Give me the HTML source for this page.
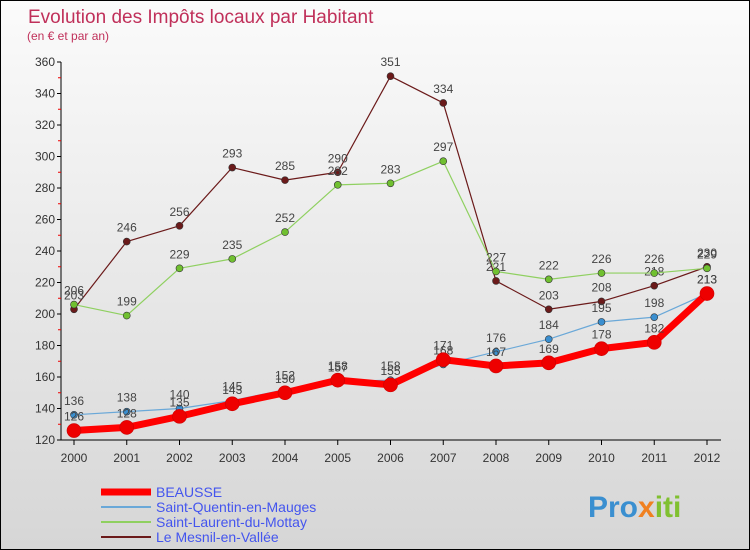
<!DOCTYPE html>
<html><head><meta charset="utf-8"><style>
body{margin:0}
#c{width:748px;height:548px;border:1px solid #000;background:linear-gradient(#fbfbfb,#d6d6d6);position:relative;font-family:"Liberation Sans",sans-serif}
svg{position:absolute;left:0;top:0}
</style></head><body>
<div id="c">
<svg id="s" width="748" height="548">
<text x="27" y="22" font-size="19" fill="#c0305a">Evolution des Impôts locaux par Habitant</text>
<text x="26" y="39" font-size="12" fill="#c0305a">(en € et par an)</text>
<text x="587" y="516" font-size="30" font-weight="bold" fill="#3a8fd0">Pro<tspan fill="#f08020">x</tspan><tspan fill="#80c030">iti</tspan></text>
</svg></div>
<script>
const years=["2000","2001","2002","2003","2004","2005","2006","2007","2008","2009","2010","2011","2012"];
const yTicks=[120,140,160,180,200,220,240,260,280,300,320,340,360];
const beausse=[126,128,135,143,150,158,155,171,167,169,178,182,213];
const stQuentin=[136,138,140,145,152,157,158,168,176,184,195,198,213];
const stLaurent=[206,199,229,235,252,282,283,297,227,222,226,226,229];
const mesnil=[203,246,256,293,285,290,351,334,221,203,208,218,230];
const names=["BEAUSSE","Saint-Quentin-en-Mauges","Saint-Laurent-du-Mottay","Le Mesnil-en-Vallée"];
const s=document.getElementById('s');const NS="http://www.w3.org/2000/svg";
function X(i){return 73+i*(706-73)/12}
function Y(v){return 439-(v-120)*(439-61)/240}
function el(t,a,p){const e=document.createElementNS(NS,t);for(const k in a)e.setAttribute(k,a[k]);(p||s).appendChild(e);return e}
const ax=el('line',{x1:60,y1:61,x2:60,y2:439,stroke:'#000'});

const bx=el('line',{x1:60,y1:439,x2:720,y2:439,stroke:'#000'});

yTicks.forEach((v,i)=>{el('line',{x1:56,x2:60,y1:Y(v),y2:Y(v),stroke:'#000'});
 if(i<yTicks.length-1)el('line',{x1:57,x2:60,y1:Y(v+10),y2:Y(v+10),stroke:'#e00'});
 const t=el('text',{x:54,y:Y(v)+4,'font-size':12,fill:'#333','text-anchor':'end'});t.textContent=v;
 });
years.forEach((y,i)=>{el('line',{x1:X(i),x2:X(i),y1:439,y2:444,stroke:'#000'});
 const t=el('text',{x:X(i),y:461,'font-size':12,fill:'#333','text-anchor':'middle'});t.textContent=y;
 });
const series=[[mesnil,'#6b1a1a','#6b1a1a',1.2,3.5],[stLaurent,'#8fd060','#70c030',1.2,3.5],[stQuentin,'#6aa8d8','#3a8fd0',1.2,3.5],[beausse,'#ff0000','#ee0000',7,7]];
series.forEach(([d,lc,pc,w,r],k)=>{
 const g=el('g',{});
 el('polyline',{points:d.map((v,i)=>X(i)+','+Y(v)).join(' '),fill:'none',stroke:lc,'stroke-width':w,'stroke-linejoin':'round'},g);
 d.forEach((v,i)=>{const c=el('circle',{cx:X(i),cy:Y(v),r:r,fill:pc,stroke:k==3?'#c00':'#333','stroke-width':0.6},g);
  
  const t=el('text',{x:X(i),y:Y(v)-10,'font-size':12,fill:'#444','text-anchor':'middle'},g);t.textContent=v;
  });
});
const lc=['#ff0000','#6aa8d8','#8fd060','#6b1a1a'],lw=[7,2,2,2];
names.forEach((n,i)=>{const y=491+i*15;
 const g=el('g',{});
 el('line',{x1:100,x2:150,y1:y,y2:y,stroke:lc[i],'stroke-width':lw[i]},g);
 const t=el('text',{x:155,y:y+5,'font-size':14,fill:'#4455ee'},g);t.textContent=n;});
</script></body></html>
